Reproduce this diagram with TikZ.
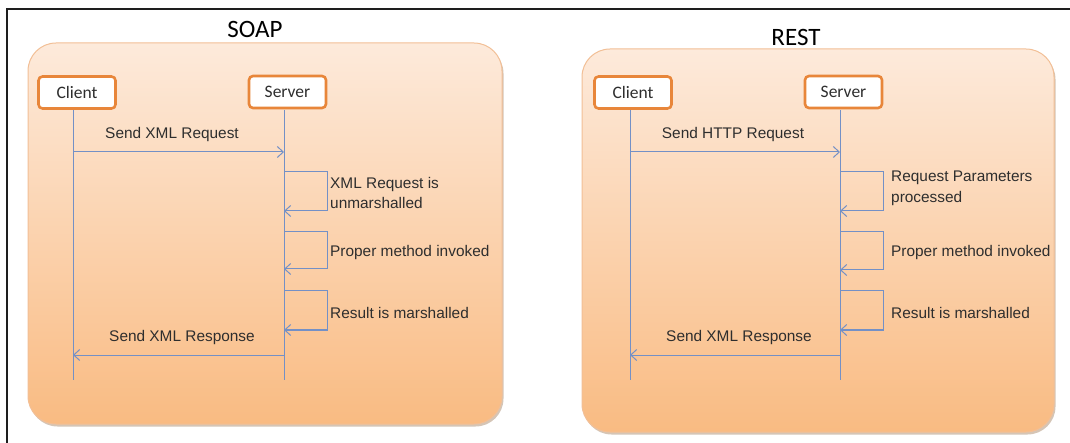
\documentclass[tikz,border=0pt]{standalone}
\usepackage{fontspec}
\setmainfont{Liberation Sans}
\newfontfamily\calfont{Carlito}
\usetikzlibrary{arrows.meta,shadows}
\definecolor{frameC}{HTML}{1E1E1E}
\definecolor{panTop}{HTML}{FDEADB}
\definecolor{panBot}{HTML}{F9BB82}
\definecolor{panEdge}{HTML}{F2BF96}
\definecolor{boxEdge}{HTML}{E8863A}
\definecolor{lineC}{HTML}{7390C6}
\definecolor{txtC}{HTML}{2E2E2E}
\tikzset{
  panel/.style={draw=panEdge, line width=1pt, rounded corners=28pt, top color=panTop, bottom color=panBot,
    drop shadow={shadow xshift=1.5pt, shadow yshift=-2.5pt, opacity=0.35, fill=brown!70!black}, inner sep=0pt},
  title/.style={font=\calfont\fontsize{25}{30}\selectfont, text=black},
  actor/.style={draw=boxEdge, line width=2.6pt, fill=white, rounded corners=4pt, minimum width=77pt, minimum height=32pt,
    inner sep=0pt, font=\calfont\fontsize{17.5}{20}\selectfont, text=txtC},
  life/.style={draw=lineC, line width=1pt},
  msg/.style={draw=lineC, line width=1pt, -{Straight Barb[length=6pt,width=11pt,line width=1pt]}},
  lbl/.style={font=\fontsize{15.4}{20.5}\selectfont, text=txtC, inner sep=0pt},
  note/.style={lbl, anchor=west, align=left}
}
\begin{document}
\begin{tikzpicture}[x=1pt,y=-1pt]
\useasboundingbox (0,0) rectangle (1070,443);
% outer frame (top and left)
\coordinate (fL) at (7,443);
\coordinate (fTL) at (7,9);
\coordinate (fR) at (1070,9);
\draw[frameC, line width=1.6pt] (fL) -- (fTL) -- (fR);

% ---------- SOAP ----------
\node[panel, minimum width=474pt, minimum height=381pt] (p1) at (265,233.5) {};
\node[title] (t1) at (255,29) {SOAP};
\node[actor] (c1) at (77,92.5) {Client};
\node[actor] (s1) at (287.5,92) {Server};
\coordinate (c1e) at (c1.south |- 0,380);
\coordinate (s1e) at (s1.south |- 0,380);
\coordinate (c1x) at (73,110);
\coordinate (s1x) at (284,110);
\draw[life] (c1x) -- (c1x |- c1e);
\draw[life] (s1x) -- (s1x |- s1e);
\node[lbl] (m1a) at (172,135) {Send XML Request};
\draw[msg] (c1x |- 0,152) -- (s1x |- 0,152);
\draw[msg] (s1x |- 0,172) -- (327,172) |- (s1x |- 0,211);
\node[note] (n1a) at (330,193) {XML Request is\\unmarshalled};
\draw[msg] (s1x |- 0,232) -- (327,232) |- (s1x |- 0,269);
\node[note] (n1b) at (330,253) {Proper method invoked};
\draw[msg] (s1x |- 0,291) -- (327,291) |- (s1x |- 0,330);
\node[note] (n1c) at (330,313) {Result is marshalled};
\node[lbl] (m1b) at (182,338) {Send XML Response};
\draw[msg] (s1x |- 0,355) -- (c1x |- 0,355);

% ---------- REST ----------
\node[panel, minimum width=472pt, minimum height=383pt] (p2) at (818,240.5) {};
\node[title] (t2) at (796,37) {REST};
\node[actor] (c2) at (633,92.5) {Client};
\node[actor] (s2) at (843.5,92) {Server};
\coordinate (c2e) at (c2.south |- 0,380);
\coordinate (s2e) at (s2.south |- 0,380);
\coordinate (c2x) at (630,110);
\coordinate (s2x) at (840,110);
\draw[life] (c2x) -- (c2x |- c2e);
\draw[life] (s2x) -- (s2x |- s2e);
\node[lbl] (m2a) at (733,135) {Send HTTP Request};
\draw[msg] (c2x |- 0,152) -- (s2x |- 0,152);
\draw[msg] (s2x |- 0,172) -- (883,172) |- (s2x |- 0,211);
\node[note] (n2a) at (891,188.5) {Request Parameters\\processed};
\draw[msg] (s2x |- 0,232) -- (883,232) |- (s2x |- 0,270);
\node[note] (n2b) at (891,253) {Proper method invoked};
\draw[msg] (s2x |- 0,291) -- (883,291) |- (s2x |- 0,330);
\node[note] (n2c) at (891,313) {Result is marshalled};
\node[lbl] (m2b) at (739,338) {Send XML Response};
\draw[msg] (s2x |- 0,355) -- (c2x |- 0,355);
\end{tikzpicture}
\end{document}
